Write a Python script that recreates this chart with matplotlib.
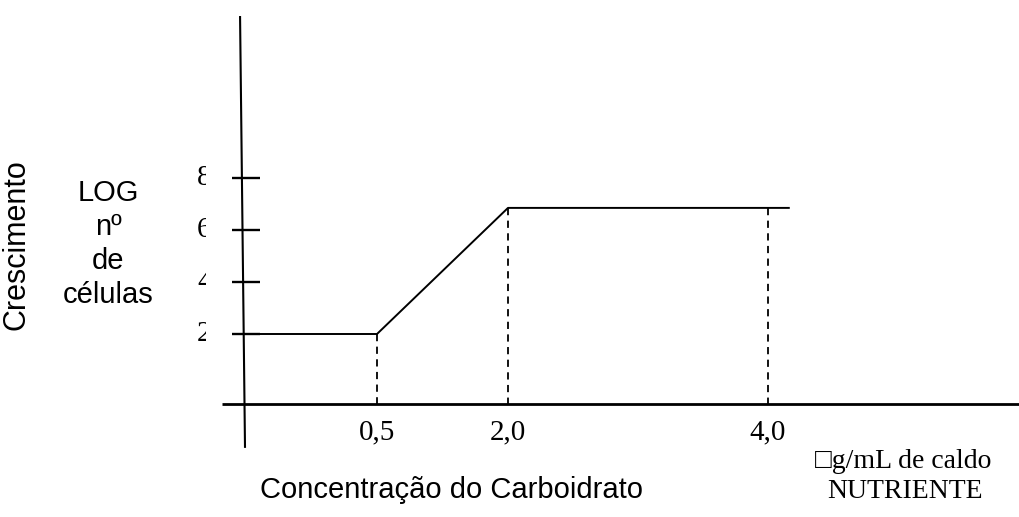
import numpy as np
import matplotlib
matplotlib.use("Agg")
import matplotlib.pyplot as plt
from matplotlib.transforms import Bbox

# ---- data ----
conc_points = [0.0, 0.5, 2.0, 4.16]          # concentração (µg/mL)
log_cells = [2.0, 2.0, 6.85, 6.85]          # LOG nº de células
x_tick_vals = [0.5, 2.0, 4.0]
x_tick_labels = ["0,5", "2,0", "4,0"]
y_tick_vals = [2, 4, 6, 8]
y_tick_labels = ["2", "4", "6", "8"]
dashed_x = [0.5, 2.0, 4.0]
dashed_top = [2.0, 6.85, 6.85]

# non-uniform drawing of the hand-made x axis (piecewise linear)
_anchor_c = np.array([-1.0, 0.0, 0.5, 2.0, 4.0, 6.0])
_anchor_p = np.array([-25.0, 243.0, 377.0, 508.0, 768.0, 1028.0])
def fwd(c):
    return np.interp(c, _anchor_c, _anchor_p)
def inv(p):
    return np.interp(p, _anchor_p, _anchor_c)

fig = plt.figure(figsize=(10.19, 5.17), dpi=100)
ax = fig.add_axes([0, 0, 1, 1])
ax.set_xscale('function', functions=(fwd, inv))
ax.set_xlim(inv(0.0), inv(1019.0))
ax.set_ylim(2 - 183 / 26.0, 2 + 334 / 26.0)
ax.axis('off')

serif = ['Liberation Serif', 'DejaVu Serif']
sans = ['Liberation Sans', 'DejaVu Sans']

x_axis_y = -0.69
# y axis (slightly slanted)
ax.plot([-0.011, 0.0075], [14.23, -2.38], color='black', lw=1.5, solid_capstyle='butt')
# x axis
ax.plot([inv(222.0), inv(1019.0)], [x_axis_y, x_axis_y], color='black', lw=2.0, solid_capstyle='butt')

# y ticks and labels
for v, lab in zip(y_tick_vals, y_tick_labels):
    ax.plot([inv(232.0), inv(260.0)], [v, v], color='black', lw=1.7, solid_capstyle='butt')
    t = ax.text(inv(197.0), v, lab, fontsize=21, family=serif, ha='left', va='center')
    # the labels are cut on the right side in the reference
    clip = Bbox.from_extents(0, 0, 206, 517)
    t.set_clip_box(clip)
    t.set_clip_on(True)

# curve
ax.plot(conc_points, log_cells, color='black', lw=1.4)

# dashed drop lines
for xv, top in zip(dashed_x, dashed_top):
    ax.plot([xv, xv], [top, x_axis_y], color='black', lw=1.3, linestyle=(0, (4, 3)))

# x tick labels
for xv, lab in zip(x_tick_vals, x_tick_labels):
    ax.text(xv, x_axis_y - 1.08, lab, fontsize=21, family=serif, ha='center', va='center')

# labels
ax.text(inv(17.0), 2 + (334 - 245) / 26.0, "Crescimento", fontsize=22, family=sans,
        rotation=90, ha='center', va='center')
ax.text(inv(108.0), 2 + (334 - 244) / 26.0, "LOG\nnº\nde\ncélulas", fontsize=21, family=sans,
        ha='center', va='center', linespacing=1.28)
ax.text(inv(452.0), 2 + (334 - 490) / 26.0, "Concentração do Carboidrato", fontsize=21,
        family=sans, ha='center', va='center')
ax.text(inv(903.0), 2 + (334 - 462) / 26.0, "\u25a1g/mL de caldo", fontsize=20,
        family=serif, ha='center', va='center')
ax.text(inv(905.0), 2 + (334 - 492) / 26.0, "NUTRIENTE", fontsize=20,
        family=serif, ha='center', va='center')

fig.savefig("out.png", dpi=100)
